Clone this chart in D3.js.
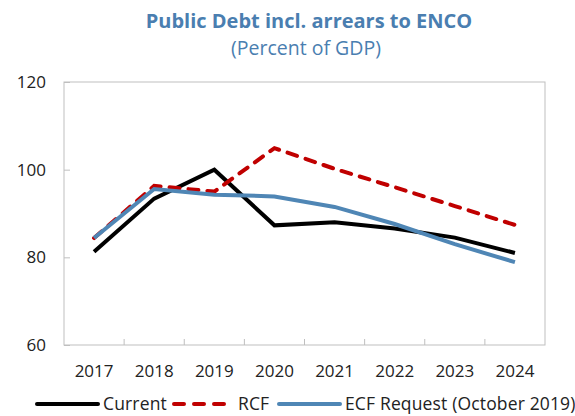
<!DOCTYPE html>
<html><head><meta charset="utf-8">
<script src="https://cdn.jsdelivr.net/npm/d3@7"></script>
<style>body{margin:0;background:#fff;} text{font-family:"Open Sans",sans-serif;}</style>
</head><body>
<svg id="c" width="575" height="416"></svg>
<script>
const years = ["2017","2018","2019","2020","2021","2022","2023","2024"];
const current = [81.3, 93.4, 100.0, 87.3, 88.0, 86.6, 84.5, 81.0];
const rcf = [84.4, 96.3, 95.0, 104.9, 100.2, 96.0, 91.7, 87.4];
const ecf = [84.4, 95.6, 94.3, 93.9, 91.5, 87.6, 83.0, 78.9];
const yTicks = [60, 80, 100, 120];
const seriesNames = ["Current", "RCF", "ECF Request (October 2019)"];

const svg = d3.select("#c");
const L = 64, R = 545, T = 82, B = 345;
const x = d3.scaleBand().domain(years).range([L, R]);
const y = d3.scaleLinear().domain([60, 120]).range([B, T]);
const gray = "#bfbfbf";

// frame
svg.append("rect").attr("x", L).attr("y", T).attr("width", R - L).attr("height", B - T)
  .attr("fill", "none").attr("stroke", gray).attr("stroke-width", 1);

// y axis
const ya = svg.append("g").attr("transform", `translate(${L},0)`)
  .call(d3.axisRight(y).tickValues(yTicks).tickSize(6).tickFormat(d3.format("d")));
ya.select(".domain").remove();
ya.selectAll("line").attr("stroke", gray);
ya.selectAll("text").attr("x", -18).attr("text-anchor", "end").attr("font-size", 17).attr("fill", "#222");

// x axis with boundary ticks
const xa = svg.append("g").attr("transform", `translate(0,${B})`)
  .call(d3.axisBottom(x).tickSize(0).tickPadding(20));
xa.select(".domain").remove();
xa.selectAll("text").attr("font-size", 17).attr("fill", "#222");
svg.append("g").selectAll("line").data(years.slice(1)).join("line")
  .attr("x1", d => x(d)).attr("x2", d => x(d)).attr("y1", B).attr("y2", B - 6)
  .attr("stroke", gray);

const line = d3.line().x((d, i) => x(years[i]) + x.bandwidth() / 2).y(d => y(d));
const styles = [
  {data: current, color: "#000000", dash: null},
  {data: rcf, color: "#c00000", dash: "10,9"},
  {data: ecf, color: "#4f86b5", dash: null}
];
styles.forEach(s => {
  svg.append("path").attr("d", line(s.data)).attr("fill", "none")
    .attr("stroke", s.color).attr("stroke-width", 4)
    .attr("stroke-linecap", s.dash ? "round" : "butt")
    .attr("stroke-linejoin", "miter")
    .attr("stroke-dasharray", s.dash);
});

// title
svg.append("text").attr("x", 309).attr("y", 28).attr("text-anchor", "middle")
  .attr("font-size", 20).attr("font-weight", "bold").attr("fill", "#4a7eb0")
  .text("Public Debt incl. arrears to ENCO");
svg.append("text").attr("x", 306).attr("y", 55).attr("text-anchor", "middle")
  .attr("font-size", 19.5).attr("fill", "#4a7eb0").text("(Percent of GDP)");

// legend
const leg = [
  {x1: 37, x2: 98, tx: 103},
  {x1: 174, x2: 226, tx: 238},
  {x1: 279, x2: 340, tx: 345}
];
leg.forEach((l, i) => {
  const s = styles[i];
  svg.append("line").attr("x1", l.x1).attr("x2", l.x2).attr("y1", 404).attr("y2", 404)
    .attr("stroke", s.color).attr("stroke-width", 4)
    .attr("stroke-linecap", "round").attr("stroke-dasharray", s.dash ? "10,10" : null);
  svg.append("text").attr("x", l.tx).attr("y", 410).attr("font-size", 17.5)
    .attr("letter-spacing", "0.15px").attr("fill", "#222")
    .text(seriesNames[i]);
});
</script>
</body></html>
